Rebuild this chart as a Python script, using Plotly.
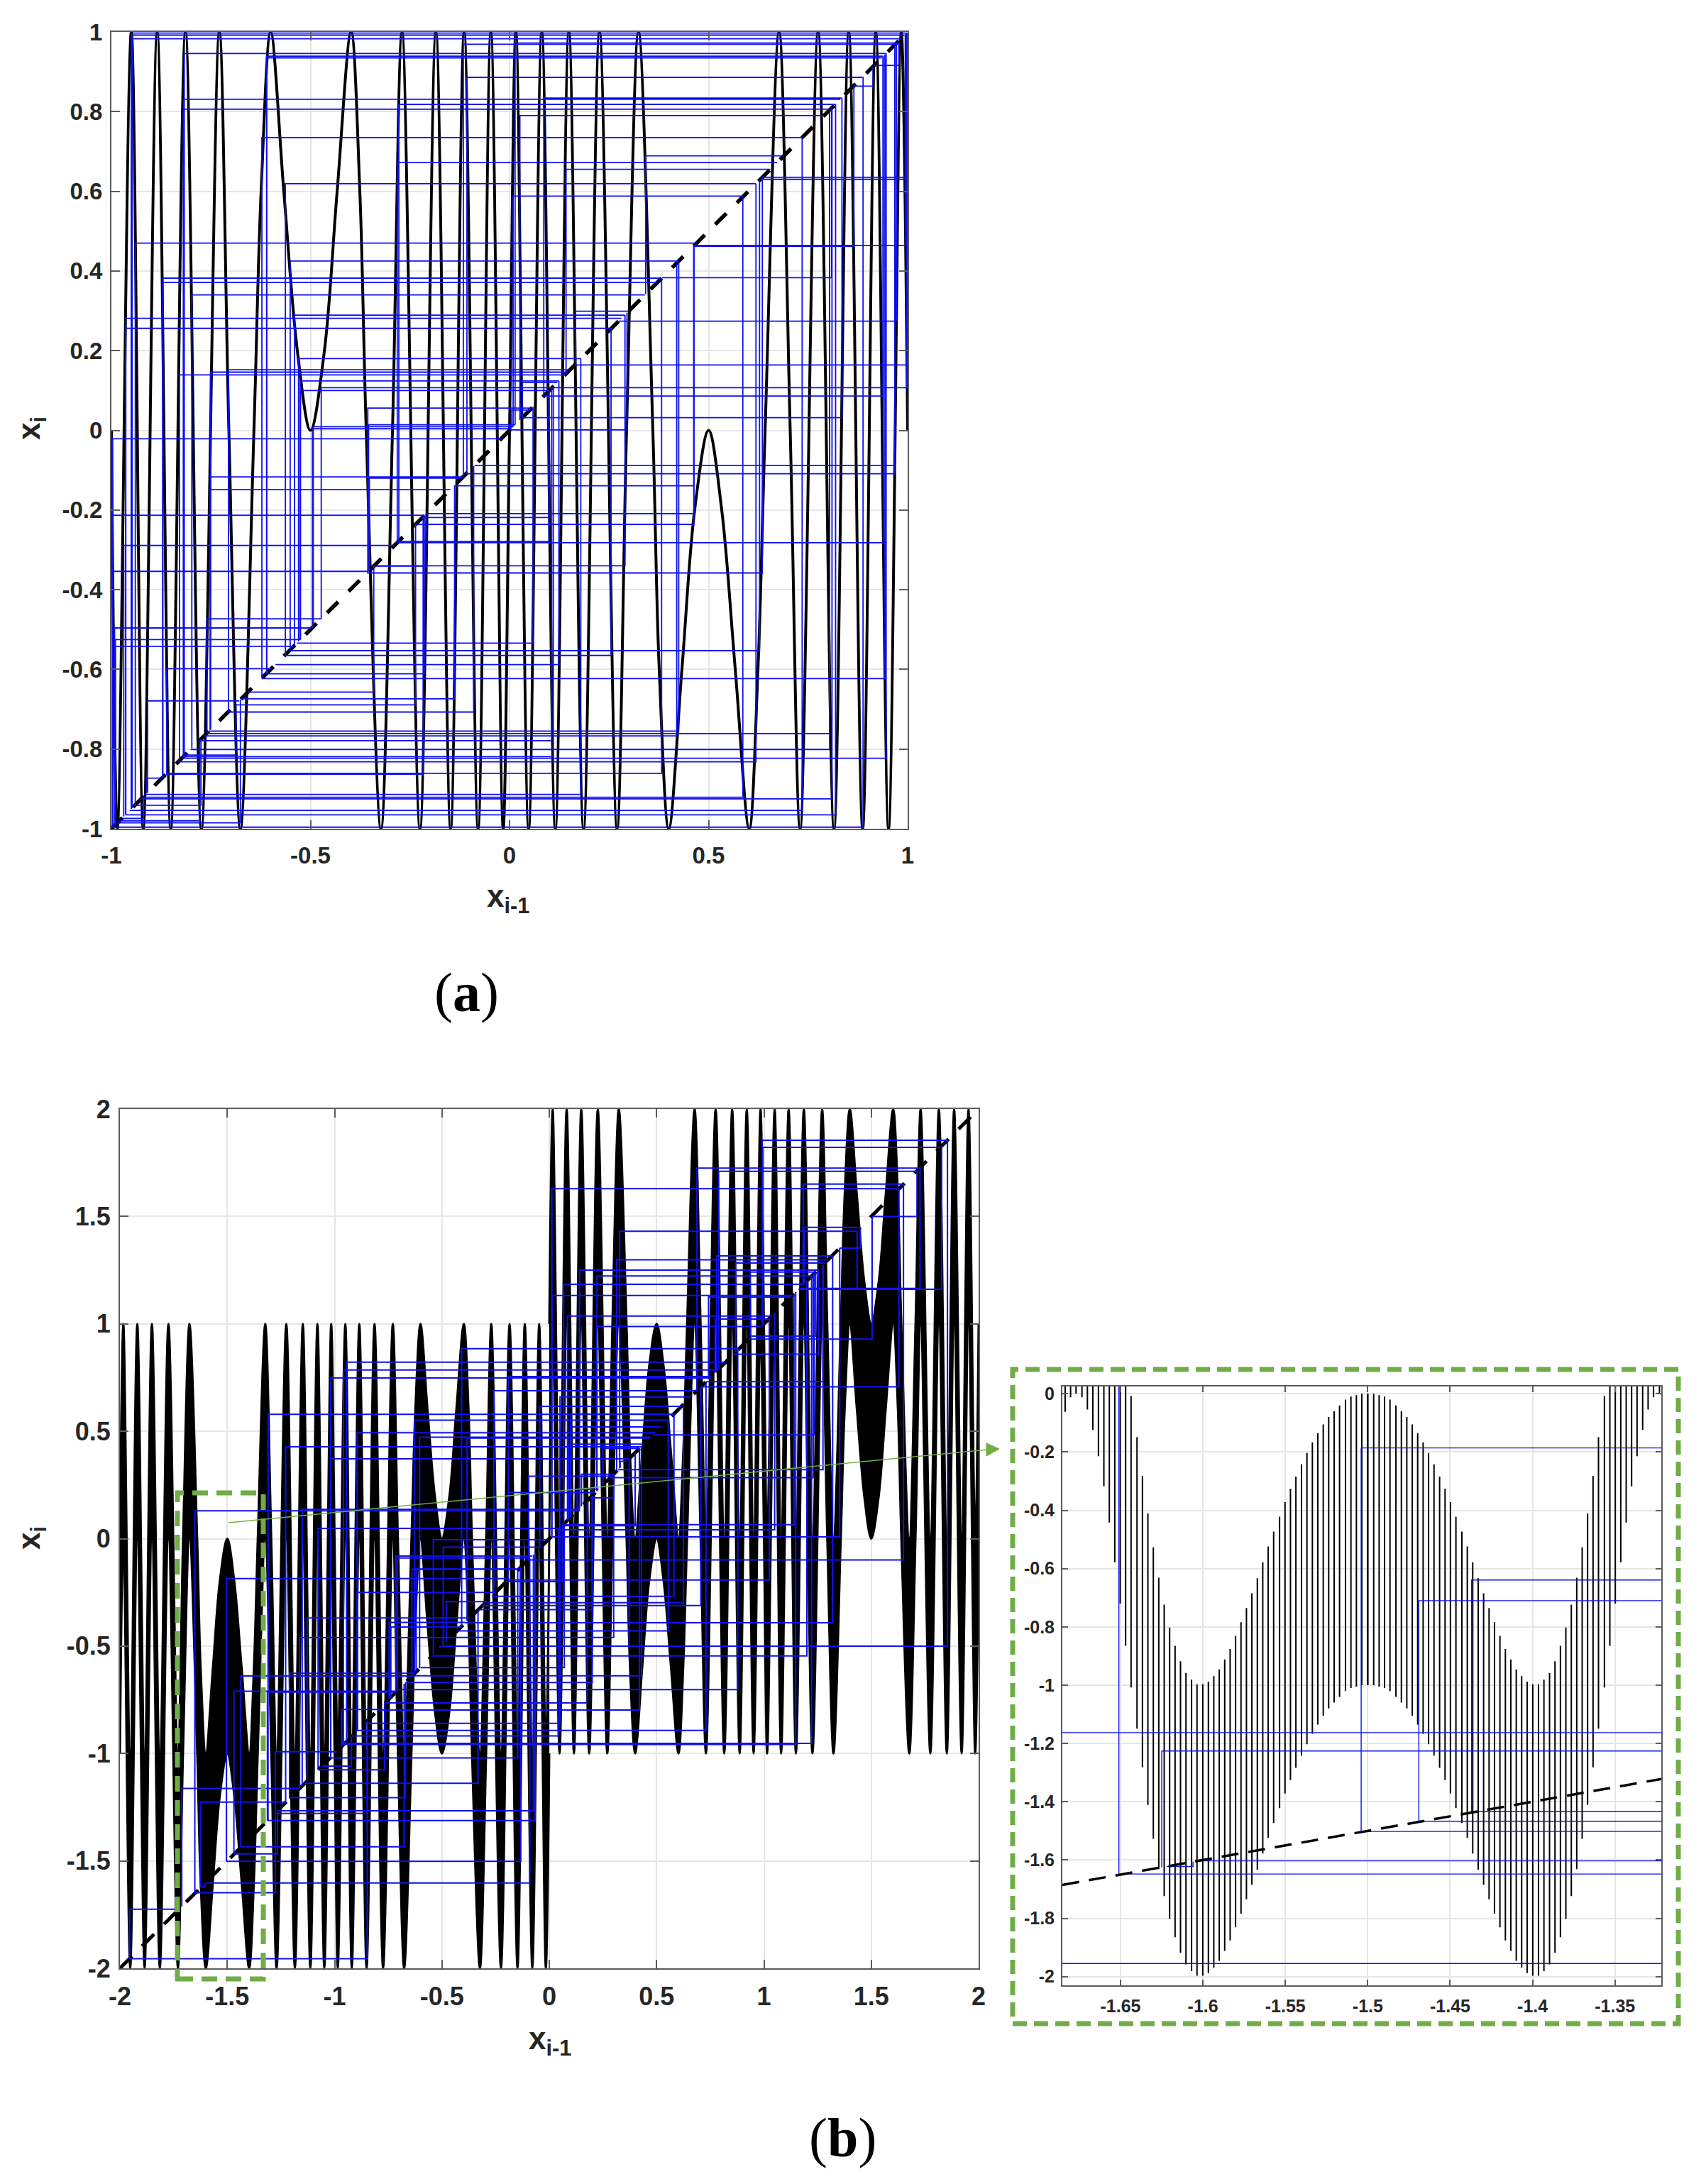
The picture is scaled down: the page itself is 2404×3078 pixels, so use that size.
"""Cobweb diagrams (a), (b) and the zoomed inset of (b), redrawn in Plotly."""

import plotly.graph_objects as go

W, H = 2404, 3078
PAGE_MARGIN = 8  # the page body sits this far in from the window corner
BLACK = "#000000"
BLUE = "#1010f0"
GREEN = "#70ad47"
GRID = "#e6e6e6"
AXIS = "#5c5c5c"
TEXT = "#262626"

# panel (a): map curve, knots read at peaks, troughs and along the big arcs
curve_a_x = [-1, -.985, -.95, -.92, -.885, -.851, -.814, -.774, -.729, -.705, -.676, -.642, -.624, -.6, -.567, -.533,
             -.5, -.465, -.433, -.398, -.376, -.36, -.323, -.294, -.27, -.225, -.185, -.148, -.114, -.079, -.047, -.016,
             0, .016, .048, .081, .115, .149, .186, .226, .27, .294, .324, .36, .376, .4, .433, .465,
             .5, .533, .567, .602, .624, .642, .677, .705, .73, .775, .815, .852, .887, .92, .952, .984, 1]
curve_a_y = [0, -1, 1, -1, 1, -1, 1, -1, 1, 0, -1, 0, .6, 1, .6, .2,
             0, .2, .6, 1, .6, 0, -1, 0, 1, -1, 1, -1, 1, -1, 1, -1,
             0, 1, -1, 1, -1, 1, -1, 1, -1, 0, 1, 0, -.6, -1, -.6, -.2,
             0, -.2, -.6, -1, -.6, 0, 1, 0, -1, 1, -1, 1, -1, 1, -1, 1, 0]

# panel (a): cobweb, x of the iterate and the value it maps to
web_a_x = [-.95, -.948, -.95, .014, -.116, -.817, -.61, -.61, .978, -.107, .913, .086, -.819, -.278, -.819, .026,
           -.622, .342, -.282, .142, .996, .996, -.563, .009, -.94, .994, .865, -.551, .809, -.871, -.871, -.798,
           .166, -.54, -.964, .972, -.964, -.53, .998, -.706, -.751, -.829, -.526, .032, -.473, .998, -.525, .938,
           -.356, .0045, .835, -.354, -.493, -.495, .295, -.997, .968, .968, -.751, -.352, .463, -.752, .463, -.997,
           .099, .463, .099, .939, -.969, .29, -.21, -.997, .635, -.76, -.992, -.99, .059, -.99, .628, .255,
           .124, -.861, -.214, .943, -.341, -.138, -.909, -.236, -.09, .425, .804, .42, .106, .804, -.687, .11,
           .946, .619, .382, -.217, -.911, .179, .586, .81, -.775, .735, .819, -.92, -.778, -.676, .888]
web_a_y = [.997, .992, .983, .972, .969, .946, .939, .935, .916, .886, .864, .834, .831, .818, .806, .79,
           .735, .689, .672, .655, .635, .63, .619, .588, .47, .464, .462, .425, .383, .382, .371, .34,
           .299, .289, .281, .274, .256, .18, .164, .152, .146, .139, .124, .12, .107, .107, .1, .086,
           .056, .051, .032, .014, .009, .004, .001, -.021, -.088, -.109, -.117, -.12, -.139, -.149, -.209, -.213,
           -.219, -.236, -.279, -.282, -.289, -.34, -.341, -.354, -.358, -.473, -.496, -.525, -.534, -.542, -.553, -.565,
           -.588, -.598, -.611, -.623, -.657, -.674, -.679, -.689, -.707, -.755, -.761, -.767, -.779, -.801, -.815, -.819,
           -.823, -.832, -.861, -.863, -.873, -.914, -.921, -.925, -.941, -.954, -.965, -.974, -.98, -.985, -.996]

# panel (b): black band, left half
band_left_x = [-2, -1.984, -1.952, -1.919, -1.885, -1.851, -1.814, -1.774, -1.73, -1.706, -1.676, -1.64, -1.624, -1.6,
               -1.567, -1.535, -1.5, -1.467, -1.433, -1.398, -1.376, -1.358, -1.323, -1.295, -1.27, -1.225, -1.185,
               -1.148, -1.113, -1.08, -1.048, -1.016, -1, -.985, -.95, -.92, -.885, -.851, -.814, -.774, -.729, -.705,
               -.676, -.642, -.624, -.6, -.567, -.533, -.5, -.465, -.433, -.398, -.376, -.36, -.323, -.294, -.27,
               -.225, -.185, -.148, -.114, -.079, -.047, -.016, 0]
band_left_top = [0, 1, -1, 1, -1, 1, -1, 1, -1, 0, 1, 0, -.6, -1,
                 -.6, -.2, 0, -.2, -.6, -1, -.6, 0, 1, 0, -1, 1, -1,
                 1, -1, 1, -1, 1, 0, -1, 1, -1, 1, -1, 1, -1, 1, 0,
                 -1, 0, .6, 1, .6, .2, 0, .2, .6, 1, .6, 0, -1, 0, 1,
                 -1, 1, -1, 1, -1, 1, -1, 0]
band_left_bottom = [-1, 0, -2, 0, -2, 0, -2, 0, -2, -1, 0, -1, -1.6, -2,
                    -1.6, -1.2, -1, -1.2, -1.6, -2, -1.6, -1, 0, -1, -2, 0, -2,
                    0, -2, 0, -2, 0, -1, -2, 0, -2, 0, -2, 0, -2, 0, -1,
                    -2, -1, -.4, 0, -.4, -.8, -1, -.8, -.4, 0, -.4, -1, -2, -1, 0,
                    -2, 0, -2, 0, -2, 0, -2, -1]

# panel (b): black band, right half
band_right_x = [0, .016, .048, .081, .115, .149, .186, .226, .27, .294, .324, .36, .376, .4, .433, .465,
                .5, .533, .567, .602, .624, .642, .677, .705, .73, .775, .815, .852, .887, .92, .952, .984, 1,
                1.015, 1.05, 1.08, 1.115, 1.149, 1.186, 1.226, 1.271, 1.295, 1.324, 1.358, 1.376, 1.4, 1.433, 1.467,
                1.5, 1.535, 1.567, 1.602, 1.624, 1.64, 1.677, 1.706, 1.73, 1.775, 1.815, 1.852, 1.886, 1.921, 1.953,
                1.984, 2]
band_right_top = [1, 2, 0, 2, 0, 2, 0, 2, 0, 1, 2, 1, .4, 0, .4, .8,
                  1, .8, .4, 0, .4, 1, 2, 1, 0, 2, 0, 2, 0, 2, 0, 2, 1,
                  0, 2, 0, 2, 0, 2, 0, 2, 1, 0, 1, 1.6, 2, 1.6, 1.2,
                  1, 1.2, 1.6, 2, 1.6, 1, 0, 1, 2, 0, 2, 0, 2, 0, 2,
                  0, 1]
band_right_bottom = [0, 1, -1, 1, -1, 1, -1, 1, -1, 0, 1, 0, -.6, -1, -.6, -.2,
                     0, -.2, -.6, -1, -.6, 0, 1, 0, -1, 1, -1, 1, -1, 1, -1, 1, 0,
                     -1, 1, -1, 1, -1, 1, -1, 1, 0, -1, 0, .6, 1, .6, .2,
                     0, .2, .6, 1, .6, 0, -1, 0, 1, -1, 1, -1, 1, -1, 1,
                     -1, 0]

# panel (b) and inset: cobweb
web_b_x = [.992, .995, .688, .789, 1.183, .012, 1.713, 1.187, .328, 1.449, .78, .314, .868, .141, .937, .222,
           .067, 1.828, 1.434, 1.727, .012, .742, .085, .773, .222, 1.504, 1.241, 1.255, 1.629, 1.275, 1.234, 1.275,
           1.23, 1.14, 1.05, 1.353, 1.65, 1.025, .581, .625, .706, 1.32, .554, 1.855, .372, 1.2, .429, .878,
           .177, .42, .73, 1.148, 1.222, .042,
           -.408, -.944, -.959, -1.018, -.191, -.258, -.044, -1.31, -.627, -.895, -.604, -.383, -1.228, -1.018, -.096, -.191,
           -1.651, -1.151, -1.077, -.494, -.708, -.62, -1.504, -.893, -.48, -1.128, -.738, -1.163, -.509, -1.21, -1.437, -1.469,
           -1.313, -.967, -.856, -.9, -.967, -1.276, -.147, -.922, -.767, -.332, -1.712, -1.625, -.67, -.074, -.848, -.066,
           -.676, -1.266, -.133, -.091, -1.606, -1.276, -1.741, -.848, -1.955,
           .05, .1, .1, .09, .25, .33, .15, .13, .3, .14, .4, -.54, -.715, -.64, -.746, .2, .06, .3, .07, .2, .05]
web_b_y = [1.855, 1.822, 1.725, 1.71, 1.651, 1.629, 1.5, 1.449, 1.431, 1.353, 1.316, 1.298, 1.283, 1.25, 1.241, 1.223,
           1.184, 1.161, 1.163, 1.165, 1.132, 1.125, 1.036, 1.022, .988, .929, .943, .859, .707, .731, .483, .321,
           .284, .065, .041, .0085, -.099, -.192, -.268, -.298, -.311, -.391, -.429, -.5, -.5, -.546, -.638, -.703,
           -.765, -.798, -.893, -.958, -.953, -.918,
           .884, .822, .785, .748, .755, .689, .616, .579, .552, .493, .472, .468, .428, .372, .291, .215,
           .13, .136, .048, -.04, -.09, -.141, -.186, -.25, -.293, -.369, -.411, -.461, -.503, -.627, -.639, -.71,
           -.714, -.795, -.857, -.894, -.95, -.992, -1.021, -1.059, -1.076, -1.139, -1.163, -1.226, -1.206, -1.267, -1.279, -1.312,
           -1.434, -1.467, -1.502, -1.603, -1.622, -1.648, -1.725, -1.955, -1.725,
           .66, .58, .52, .44, .42, .36, .3, .23, .19, .13, .06, -.005, -.081, -.142, -.39, -.33, -.2, -.46, -.6, -.67, -.86]

# inset: comb teeth, distance from x=-1.5 with the top and bottom of each tooth (curve is mirrored about -1.5)
tooth_offset = [0, .0036, .0069, .0102, .0135, .0171, .0204, .0237, .027, .0303, .0336, .0369, .0402, .0436,
                .0469, .0502, .0535, .0571, .0604, .0637, .067, .0703, .0736, .0769, .0802, .0835, .0868, .0901,
                .0934, .0967, .1001, .1036, .1069, .1103, .1136, .1169, .1202, .1235, .1268, .1301, .1334, .1367,
                .14, .1436, .1469, .1502, .1535, .1568, .1601, .1634, .1668, .1701, .1734, .177, .1803, .1836]
tooth_top = [0, 0, -.005, -.01, -.02, -.04, -.06, -.08, -.105, -.135, -.167, -.203, -.242, -.284,
             -.326, -.372, -.422, -.473, -.524, -.578, -.633, -.685, -.735, -.784, -.831, -.876, -.912, -.946,
             -.969, -.988, -.997, -.997, -.981, -.958, -.918, -.865, -.802, -.724, -.631, -.527, -.411, -.282,
             -.149, -.008, .135, .28, .422, .558, .682, .786, .876, .946, .988, 1, .988, .938]
tooth_bottom = [-1, -1, -1.005, -1.01, -1.02, -1.04, -1.06, -1.08, -1.105, -1.135, -1.167, -1.203, -1.242, -1.284,
                -1.326, -1.372, -1.422, -1.473, -1.524, -1.578, -1.633, -1.685, -1.735, -1.784, -1.831, -1.876, -1.912, -1.946,
                -1.969, -1.988, -1.997, -1.997, -1.981, -1.958, -1.918, -1.865, -1.802, -1.724, -1.631, -1.527, -1.411, -1.282,
                -1.149, -1.008, -.865, -.72, -.578, -.442, -.318, -.214, -.124, -.054, -.012, 0, -.012, -.062]

ticks_a_x = [-1, -.5, 0, .5, 1]
ticks_a_y = [-1, -.8, -.6, -.4, -.2, 0, .2, .4, .6, .8, 1]
ticks_b = [-2, -1.5, -1, -.5, 0, .5, 1, 1.5, 2]
ticks_c_x = [-1.65, -1.6, -1.55, -1.5, -1.45, -1.4, -1.35]
ticks_c_y = [-2, -1.8, -1.6, -1.4, -1.2, -1, -.8, -.6, -.4, -.2, 0]
range_c_x = [-1.6853, -1.3219]
range_c_y = [-2.03, .025]


def px_x(px):
    return (px - PAGE_MARGIN) / W


def px_y(py):
    return 1 - (py - PAGE_MARGIN) / H


def tick_text(values):
    return [f"{v:g}" for v in values]


def web_path(xs, ys):
    """Vertical from the diagonal to the curve, then horizontal back to the diagonal."""
    path_x, path_y = [], []
    for x, y in zip(xs, ys, strict=True):
        path_x += [x, x, y, None]
        path_y += [x, y, y, None]
    return path_x, path_y


def axis_style(font_size, tick_len, standoff, vals, rng):
    return dict(
        range=rng,
        automargin=False,
        tickmode="array",
        tickvals=vals,
        ticktext=tick_text(vals),
        ticks="inside",
        ticklen=tick_len,
        tickwidth=2,
        tickcolor=AXIS,
        showline=True,
        linecolor=AXIS,
        linewidth=2,
        mirror="ticks",
        showgrid=True,
        gridcolor=GRID,
        gridwidth=2,
        zeroline=False,
        ticklabelstandoff=standoff,
        tickfont=dict(family="Liberation Sans", size=font_size, color=TEXT, weight="bold"),
    )


fig = go.Figure()


def add_web(xs, ys, axes, width):
    web_x, web_y = web_path(xs, ys)
    fig.add_trace(go.Scatter(x=web_x, y=web_y, mode="lines", line=dict(color=BLUE, width=width), **axes))


def add_diagonal(ends, axes, width, dash):
    fig.add_trace(go.Scatter(x=ends, y=ends, mode="lines", line=dict(color=BLACK, width=width, dash=dash), **axes))


# panel (a)
axes_a = dict(xaxis="x", yaxis="y")
fig.add_trace(go.Scatter(x=curve_a_x, y=curve_a_y, mode="lines",
                         line=dict(color=BLACK, width=4, shape="spline", smoothing=1), **axes_a))
add_diagonal([-1, 1], axes_a, 5.5, "22px,21px")
add_web(web_a_x, web_a_y, axes_a, 1.8)

# panel (b): solid band between the two envelopes
axes_b = dict(xaxis="x2", yaxis="y2")
for xs, top, bottom in ((band_left_x, band_left_top, band_left_bottom),
                        (band_right_x, band_right_top, band_right_bottom)):
    line = dict(color=BLACK, width=3, shape="spline", smoothing=1)
    fig.add_trace(go.Scatter(x=xs, y=bottom, mode="lines", line=line, **axes_b))
    fig.add_trace(go.Scatter(x=xs, y=top, mode="lines", line=line, fill="tonexty", fillcolor=BLACK, **axes_b))
add_diagonal([-2, 2], axes_b, 5, "24px,20px")
add_web(web_b_x, web_b_y, axes_b, 2)

# inset: individual teeth of the comb
axes_c = dict(xaxis="x3", yaxis="y3")
comb_x, comb_y = [], []
for d, top, bottom in zip(tooth_offset, tooth_top, tooth_bottom, strict=True):
    comb_x += [-1.5 - d, -1.5 - d, None, -1.5 + d, -1.5 + d, None]
    comb_y += [top, bottom, None, top, bottom, None]
fig.add_trace(go.Scatter(x=comb_x, y=comb_y, mode="lines", line=dict(color=BLACK, width=2), **axes_c))
add_web(web_b_x, web_b_y, axes_c, 1.4)
add_diagonal(range_c_x, axes_c, 3.5, "24px,14px")

fig.update_traces(hoverinfo="skip", showlegend=False)

fig.update_layout(
    width=W,
    height=H,
    margin=dict(l=0, r=0, t=0, b=0),
    paper_bgcolor="white",
    plot_bgcolor="white",
    showlegend=False,
    xaxis=dict(domain=[px_x(157), px_x(1279)], anchor="y", **axis_style(33, 12, 7, ticks_a_x, [-1, 1])),
    yaxis=dict(domain=[px_y(1168), px_y(45)], anchor="x", **axis_style(33, 12, 4, ticks_a_y, [-1, 1])),
    xaxis2=dict(domain=[px_x(169), px_x(1379)], anchor="y2", **axis_style(36, 12, 7, ticks_b, [-2, 2])),
    yaxis2=dict(domain=[px_y(2774), px_y(1563)], anchor="x2", **axis_style(36, 12, 4, ticks_b, [-2, 2])),
    xaxis3=dict(domain=[px_x(1497), px_x(2341)], anchor="y3", **axis_style(25, 8, 6, ticks_c_x, range_c_x)),
    yaxis3=dict(domain=[px_y(2798), px_y(1954)], anchor="x3", **axis_style(25, 8, 4, ticks_c_y, range_c_y)),
)


def add_label(text, px, py, size, angle=0, family="Liberation Sans", color=TEXT):
    fig.add_annotation(text=text, xref="paper", yref="paper", x=px_x(px), y=px_y(py), showarrow=False,
                       xanchor="center", yanchor="middle", textangle=angle,
                       font=dict(family=family, size=size, color=color))


add_label("<b>x<sub>i-1</sub></b>", 716, 1266, 44)
add_label("<b>x<sub>i</sub></b>", 44, 604, 44, angle=-90)
add_label("<b>x<sub>i-1</sub></b>", 775, 2876, 44)
add_label("<b>x<sub>i</sub></b>", 44, 2168, 44, angle=-90)
add_label("(<b>a</b>)", 657, 1398, 78, family="Liberation Serif", color=BLACK)
add_label("(<b>b</b>)", 1187, 3012, 78, family="Liberation Serif", color=BLACK)


def rect_shape(left, top, right, bottom, width, dash):
    fig.add_shape(type="rect", xref="paper", yref="paper", x0=px_x(left), x1=px_x(right), y0=px_y(bottom), y1=px_y(top),
                  line=dict(color=GREEN, width=width, dash=dash), layer="above")


rect_shape(250, 2104, 371, 2789, 7, "22px,12px")
rect_shape(1427, 1930, 2365, 2852, 7, "20px,10px")

# connector from the small box to the inset
fig.add_shape(type="line", xref="paper", yref="paper", x0=px_x(322), y0=px_y(2146), x1=px_x(1392), y1=px_y(2043),
              line=dict(color=GREEN, width=1.5), layer="above")
tip = f"M {px_x(1408)} {px_y(2042)} L {px_x(1390)} {px_y(2034)} L {px_x(1390)} {px_y(2052)} Z"
fig.add_shape(type="path", xref="paper", yref="paper", path=tip, fillcolor=GREEN, line=dict(color=GREEN, width=1),
              layer="above")

fig.write_html("out.html")
